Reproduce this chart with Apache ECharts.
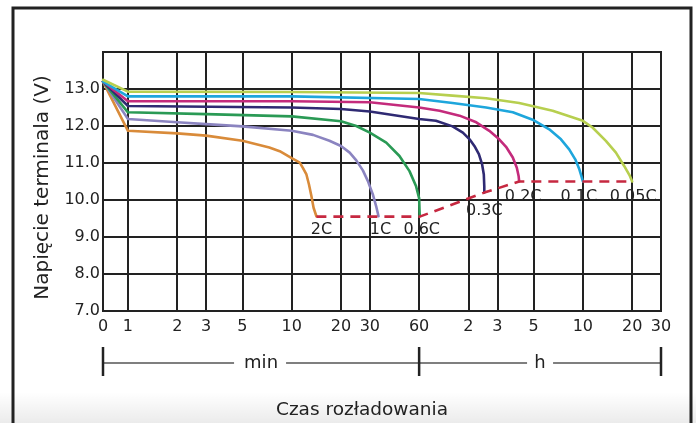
<!DOCTYPE html>
<html><head><meta charset="utf-8">
<script src="https://cdn.jsdelivr.net/npm/echarts@6/dist/echarts.min.js"></script>
<style>html,body{margin:0;padding:0;background:#fff}#c{width:696px;height:423px}</style>
</head><body><div id="c"></div>
<script>
// ---- data (time in minutes, voltage in V) ----
const tickMinutes = [0, 1, 2, 3, 5, 10, 20, 30, 60, 120, 180, 300, 600, 1200, 1800];
const tickLabels  = ['0','1','2','3','5','10','20','30','60','2','3','5','10','20','30'];
const rateNames   = ['2C', '1C', '0.6C', '0.3C', '0.2C', '0.1C', '0.05C'];

const curve2C   = [[0,13.2],[1,11.87],[2,11.8],[3,11.74],[5,11.6],[7.3,11.42],[8.45,11.32],[10,11.13],[11.2,11.01],[11.7,10.87],[12.3,10.69],[12.75,10.42],[13.2,10.1],[13.6,9.79],[14.15,9.56]];
const curve1C   = [[0,13.2],[1,12.19],[2,12.1],[3,12.05],[5,11.99],[10,11.87],[13.5,11.76],[17,11.6],[20,11.46],[22.6,11.28],[24.8,11.07],[27.2,10.8],[29.2,10.51],[31.3,10.15],[32.8,9.83],[33.9,9.56]];
const curve06C  = [[0,13.2],[1,12.37],[3,12.32],[10,12.26],[20,12.13],[24.8,12.0],[30,11.82],[37.8,11.55],[45.5,11.19],[52.4,10.78],[57.5,10.37],[60,10.05],[60.5,9.56]];
const curve03C  = [[0,13.2],[1,12.54],[10,12.5],[20,12.46],[30,12.39],[60,12.19],[76,12.14],[96,11.99],[111,11.82],[122,11.64],[130.5,11.46],[139,11.24],[145.5,10.96],[149,10.69],[150,10.37],[150,10.2]];
const curve02C  = [[0,13.2],[1,12.67],[10,12.67],[30,12.64],[60,12.5],[80,12.41],[106,12.28],[134,12.1],[161,11.87],[185,11.64],[205,11.42],[224,11.15],[237,10.87],[243,10.65],[245,10.5]];
const curve01C  = [[0,13.2],[1,12.8],[10,12.8],[60,12.73],[96,12.62],[154,12.5],[224,12.37],[296,12.17],[374,11.91],[441,11.64],[495,11.37],[539,11.1],[571,10.83],[590,10.62],[600,10.5]];
const curve005C = [[0,13.25],[1,12.93],[10,12.92],[60,12.89],[96,12.82],[154,12.75],[245,12.62],[392,12.41],[600,12.14],[687,11.96],[829,11.6],[955,11.28],[1072,10.92],[1162,10.65],[1200,10.5]];
const cutoff    = [[14.15,9.55],[33.9,9.55],[60.5,9.55],[150,10.2],[245,10.5],[600,10.5],[1200,10.5]];

// ---- styling / layout ----
const curves  = [curve2C, curve1C, curve06C, curve03C, curve02C, curve01C, curve005C];
const colors  = ['#d98b3a', '#8b84c0', '#2a9a55', '#2f2a73', '#c42b7c', '#1ea6dc', '#b7cf4f'];
const labelOffsets = [[5,13],[2,13],[2,13],[0,18],[4,15],[-4,15],[1,15]];
const ZERO_U = -0.1524;              // where "0" sits on the log-like time axis
const tx = m => (m <= 0 ? ZERO_U : Math.log10(m));
const xMin = tx(0), xMax = tx(1800);
const tickU = tickMinutes.map(tx);
const FONT = 'DejaVu Sans';

const chart = echarts.init(document.getElementById('c'), null, {renderer: 'canvas'});

const series = curves.map((c, i) => ({
  type: 'line', name: rateNames[i], data: c.map(p => [tx(p[0]), p[1]]),
  showSymbol: false, smooth: false,
  lineStyle: {color: colors[i], width: 2.6, join: 'round', cap: 'round'}, z: 3, silent: true
}));
series.push({
  type: 'line', name: 'cutoff',
  data: cutoff.map((p, i) => ({
    value: [tx(p[0]), p[1]],
    label: {show: true, formatter: rateNames[i], position: 'inside', offset: labelOffsets[i]}
  })),
  symbol: 'circle', symbolSize: 0.1, showSymbol: true,
  lineStyle: {color: '#c62840', width: 2.6, type: [10, 7]},
  itemStyle: {color: '#c62840'},
  label: {color: '#222', fontFamily: FONT, fontSize: 16},
  z: 4, silent: true
});

chart.setOption({
  animation: false,
  backgroundColor: '#fff',
  grid: {left: 103, right: 35, top: 52, bottom: 112, show: true, borderColor: '#222', borderWidth: 2},
  xAxis: {
    type: 'value', min: xMin, max: xMax,
    axisLine: {show: true, lineStyle: {color: '#222', width: 2}},
    axisTick: {show: false, customValues: tickU},
    axisLabel: {
      customValues: tickU, color: '#222', fontFamily: FONT, fontSize: 16, margin: 8,
      formatter: v => {
        let best = 0, d = 1e9;
        tickU.forEach((u, i) => { if (Math.abs(u - v) < d) { d = Math.abs(u - v); best = i; } });
        return tickLabels[best];
      }
    },
    splitLine: {show: true, lineStyle: {color: '#222', width: 2}}
  },
  yAxis: {
    type: 'value', min: 7, max: 14, interval: 1,
    name: 'Napięcie terminala (V)', nameLocation: 'middle', nameGap: 50,
    nameTextStyle: {color: '#222', fontFamily: FONT, fontSize: 20, padding: [0, 12, 0, 0]},
    axisLine: {show: true, lineStyle: {color: '#222', width: 2}},
    axisTick: {show: false},
    axisLabel: {color: '#222', fontFamily: FONT, fontSize: 16, margin: 3, showMaxLabel: false,
      formatter: v => v.toFixed(1)},
    splitLine: {show: true, lineStyle: {color: '#222', width: 2}}
  },
  series: series
});

// brackets under the axis ("min" and "h")
const px = m => chart.convertToPixel({xAxisIndex: 0}, tx(m));
const x0 = px(0), x60 = px(60), xEnd = px(1800);
const yB = 363;
const minMid = (x0 + x60) / 2, hMid = (x60 + xEnd) / 2;
const lineStyle = {stroke: '#555', lineWidth: 1.5};
const tickStyle = {stroke: '#222', lineWidth: 2.5};
chart.setOption({
  graphic: [
    {type: 'rect', shape: {x: 0, y: 392, width: 696, height: 31}, silent: true, z: 0,
      style: {fill: {type: 'linear', x: 0, y: 0, x2: 0, y2: 1, colorStops: [{offset: 0, color: 'rgba(0,0,0,0)'}, {offset: 1, color: 'rgba(0,0,0,0.08)'}]}}},
    {type: 'rect', shape: {x: 13, y: 8, width: 678, height: 440}, style: {fill: null, stroke: '#222', lineWidth: 3}, silent: true, z: 1},
    {type: 'line', shape: {x1: x0, y1: yB, x2: minMid - 27, y2: yB}, style: lineStyle, silent: true},
    {type: 'line', shape: {x1: minMid + 25, y1: yB, x2: x60, y2: yB}, style: lineStyle, silent: true},
    {type: 'line', shape: {x1: x60, y1: yB, x2: hMid - 13, y2: yB}, style: lineStyle, silent: true},
    {type: 'line', shape: {x1: hMid + 13, y1: yB, x2: xEnd, y2: yB}, style: lineStyle, silent: true},
    {type: 'line', shape: {x1: x0, y1: 347, x2: x0, y2: 376}, style: tickStyle, silent: true},
    {type: 'line', shape: {x1: x60, y1: 347, x2: x60, y2: 376}, style: tickStyle, silent: true},
    {type: 'line', shape: {x1: xEnd, y1: 347, x2: xEnd, y2: 376}, style: tickStyle, silent: true},
    {type: 'text', x: minMid, y: yB, silent: true,
      style: {text: 'min', fill: '#222', font: '18px "DejaVu Sans"', textAlign: 'center', textVerticalAlign: 'middle'}},
    {type: 'text', x: hMid, y: yB, silent: true,
      style: {text: 'h', fill: '#222', font: '18px "DejaVu Sans"', textAlign: 'center', textVerticalAlign: 'middle'}},
    {type: 'text', x: 362, y: 410, silent: true,
      style: {text: 'Czas rozładowania', fill: '#222', font: '18.5px "DejaVu Sans"', textAlign: 'center', textVerticalAlign: 'middle'}}
  ]
});
</script></body></html>
